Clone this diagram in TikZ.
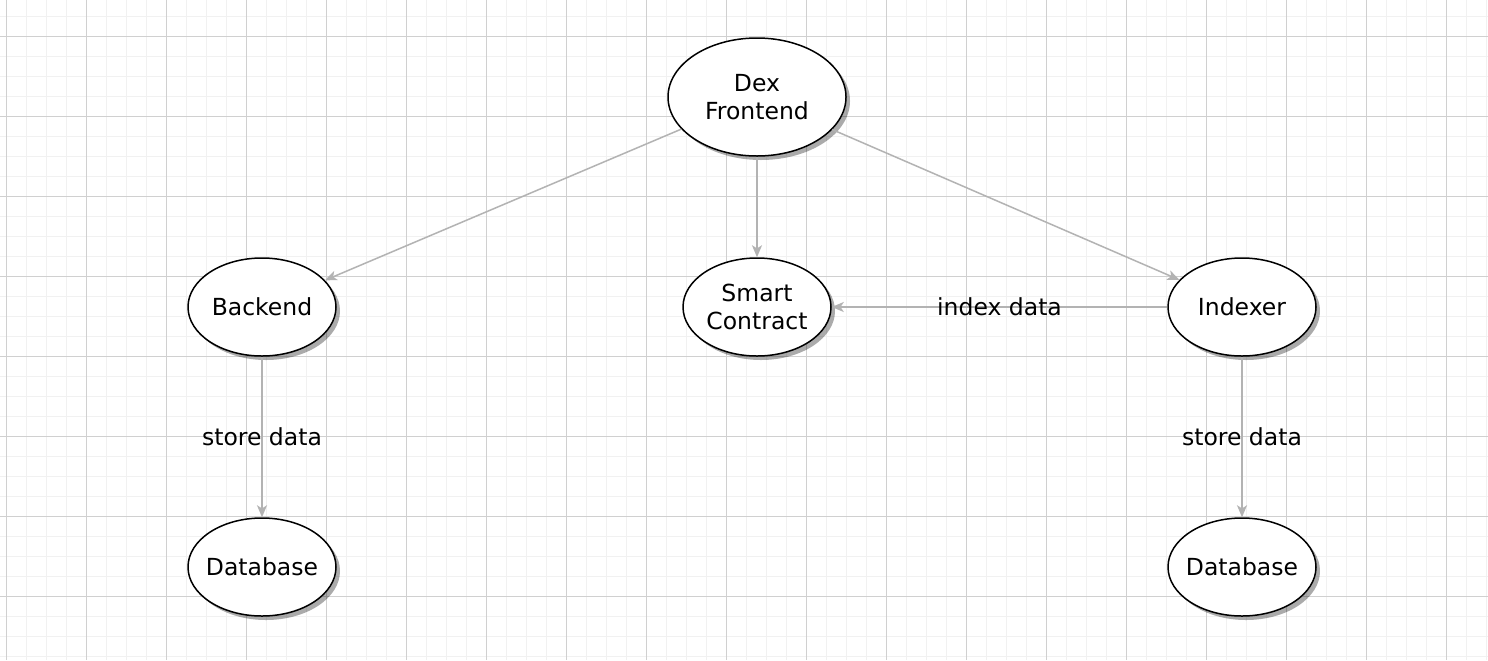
\documentclass[tikz,border=0pt]{standalone}
\usepackage{fontspec}
\setmainfont{DejaVu Sans}
\usepackage{tikz}
\usetikzlibrary{shapes.geometric}
\usetikzlibrary{arrows.meta}
\usetikzlibrary{shadows}
\definecolor{edgegray}{RGB}{179,179,179}
\definecolor{minorgray}{RGB}{241,241,241}
\definecolor{majorgray}{RGB}{208,208,208}
\tikzset{
	servicestyle/.style={ellipse,draw=black,line width=0.75pt,fill=white,minimum width=74pt,minimum height=49pt,inner sep=-4pt,align=center,font=\fontsize{11.75}{14}\selectfont,drop shadow={shadow xshift=2pt,shadow yshift=-2pt,fill=black,opacity=0.33}},
	topstyle/.style={servicestyle,minimum width=89pt,minimum height=59pt},
	flowstyle/.style={draw=edgegray,line width=0.75pt,-{Stealth[length=6pt,width=5pt,inset=1.6pt]}},
	flowlabel/.style={font=\fontsize{11.75}{14}\selectfont,inner sep=0pt}
}
\begin{document}
\begin{tikzpicture}[x=0.5pt,y=-0.5pt]
		\useasboundingbox[fill=white] (0,0) rectangle (1488,660);
		% grid
		\foreach \gx in {0,...,74} \draw[minorgray,line width=0.5pt] (6+20*\gx,0) -- (6+20*\gx,660);
		\foreach \gy in {0,...,32} \draw[minorgray,line width=0.5pt] (0,16+20*\gy) -- (1488,16+20*\gy);
		\foreach \gx in {0,...,18} \draw[majorgray,line width=0.5pt] (6+80*\gx,0) -- (6+80*\gx,660);
		\foreach \gy in {0,...,7} \draw[majorgray,line width=0.5pt] (0,36+80*\gy) -- (1488,36+80*\gy);
		% nodes
		\node[topstyle] (front) at (757,97) {Dex\\Frontend};
		\node[servicestyle] (back) at (262,307) {Backend};
		\node[servicestyle] (contract) at (757,307) {Smart\\Contract};
		\node[servicestyle] (indexer) at (1242,307) {Indexer};
		\node[servicestyle] (dbback) at (262,567) {Database};
		\node[servicestyle] (dbindex) at (1242,567) {Database};
		% connectors
		\draw[flowstyle] (front)--(back);
		\draw[flowstyle] (front)--(contract);
		\draw[flowstyle] (front)--(indexer);
		\draw[flowstyle] (indexer)-- node[flowlabel]{index data} (contract);
		\draw[flowstyle] (back)-- node[flowlabel]{store data} (dbback);
		\draw[flowstyle] (indexer)-- node[flowlabel]{store data} (dbindex);
		\end{tikzpicture}
\end{document}
